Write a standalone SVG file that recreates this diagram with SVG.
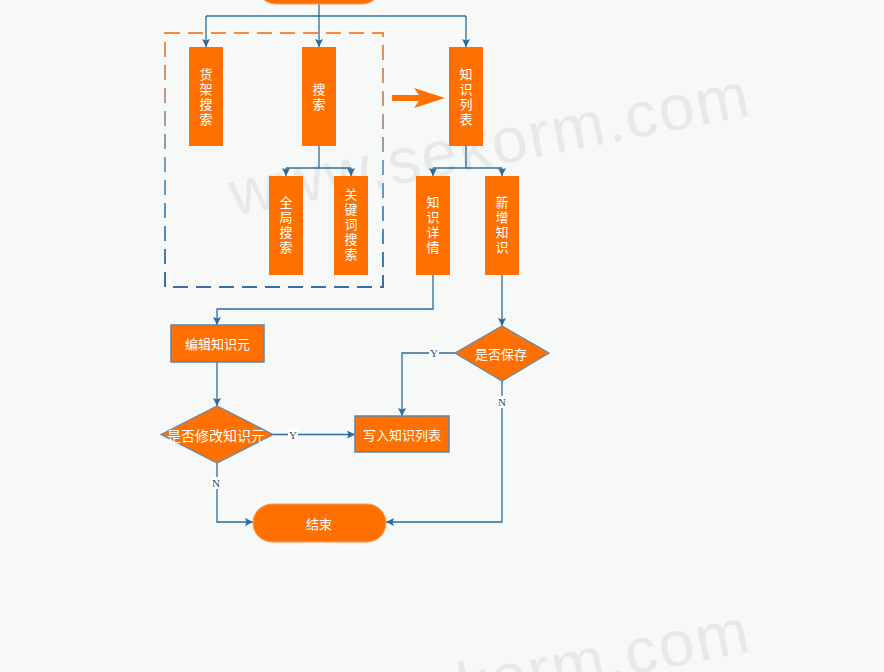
<svg xmlns="http://www.w3.org/2000/svg" width="884" height="672" viewBox="0 0 884 672">
<defs>
<style>
.box{fill:#ff7000;}
.pbox{fill:#ff7000;stroke:#5f84a4;stroke-width:1.5;}
.dia{fill:#ff7000;stroke:#6a88a2;stroke-width:1.3;}
.term{fill:#ff7000;stroke:#ff9a50;stroke-width:1;}
.t{font-family:"Noto Sans CJK SC","Noto Sans",sans-serif;font-size:13px;fill:#ffffff;text-anchor:middle;dominant-baseline:central;}
.v{font-family:"Noto Sans CJK SC","Noto Sans",sans-serif;font-size:13px;fill:#ffffff;text-anchor:middle;writing-mode:vertical-rl;letter-spacing:2px;}
.c{fill:none;stroke:#2c6c9c;stroke-width:1.3;}
.lbl{font-family:"Liberation Serif","DejaVu Serif",serif;font-size:11px;fill:#1f4f70;text-anchor:middle;dominant-baseline:central;}
.lb{fill:#ffffff;}
.wm{font-family:"Liberation Sans",Arial,sans-serif;font-size:64px;fill:#e7e9e9;letter-spacing:2px;}
</style>
<marker id="ah" markerUnits="userSpaceOnUse" markerWidth="9" markerHeight="9" refX="8" refY="4" orient="auto">
<path d="M0,0 L8,4 L0,8 L1.5,4 z" fill="#2c6c9c"/>
</marker>
<linearGradient id="dg" x1="0" y1="0" x2="0" y2="1">
<stop offset="0" stop-color="#f58a4a"/>
<stop offset="0.3" stop-color="#b89a88"/>
<stop offset="0.5" stop-color="#7aa0c0"/>
<stop offset="0.75" stop-color="#4a90c8"/>
<stop offset="1" stop-color="#3a6e9e"/>
</linearGradient>
</defs>
<rect x="0" y="0" width="884" height="672" fill="#f7f9f9"/>
<g id="watermark">
<text class="wm" x="234" y="216" transform="rotate(-11 234 216)">www.sekorm.com</text>
<text class="wm" x="234" y="752" transform="rotate(-11 234 752)">www.sekorm.com</text>
</g>
<g id="group-frame">
<rect x="165" y="33" width="218" height="254" fill="none" stroke="url(#dg)" stroke-width="2" stroke-dasharray="15 8"/>
</g>
<g id="big-arrow">
<polygon points="392,95 419,95 414,88 445,98 414,108 419,101 392,101" fill="#ff7000"/>
</g>
<g id="connectors">
<path class="c" d="M319,4 V47" marker-end="url(#ah)"/>
<path class="c" d="M206,16 H466"/>
<path class="c" d="M206,16 V47" marker-end="url(#ah)"/>
<path class="c" d="M466,16 V47" marker-end="url(#ah)"/>
<path class="c" d="M319,146 V168"/>
<path class="c" d="M286,168 H351"/>
<path class="c" d="M286,168 V176" marker-end="url(#ah)"/>
<path class="c" d="M351,168 V176" marker-end="url(#ah)"/>
<path class="c" d="M466,146 V168"/>
<path class="c" d="M433,168 H502"/>
<path class="c" d="M433,168 V176" marker-end="url(#ah)"/>
<path class="c" d="M502,168 V176" marker-end="url(#ah)"/>
<path class="c" d="M433,275 V309 H217 V325" marker-end="url(#ah)"/>
<path class="c" d="M502,275 V326" marker-end="url(#ah)"/>
<path class="c" d="M455,353 H402 V416" marker-end="url(#ah)"/>
<path class="c" d="M502,381 V522 H386" marker-end="url(#ah)"/>
<path class="c" d="M217,362 V406" marker-end="url(#ah)"/>
<path class="c" d="M273,434.5 H355" marker-end="url(#ah)"/>
<path class="c" d="M217,463 V522 H253" marker-end="url(#ah)"/>
<rect class="lb" x="429" y="347" width="10" height="12"/>
<text class="lbl" x="434" y="353">Y</text>
<rect class="lb" x="497" y="396" width="10" height="12"/>
<text class="lbl" x="502" y="402">N</text>
<rect class="lb" x="288" y="428.5" width="10" height="12"/>
<text class="lbl" x="293" y="434.5">Y</text>
<rect class="lb" x="211" y="477" width="10" height="12"/>
<text class="lbl" x="216" y="483">N</text>
</g>
<g id="start">
<rect class="term" x="257" y="-34" width="124" height="38" rx="19"/>
</g>
<g id="shelf-search">
<rect class="box" x="189" y="47" width="34" height="99"/>
<text class="v" x="206" y="97.5">货架搜索</text>
</g>
<g id="search">
<rect class="box" x="302" y="47" width="34" height="99"/>
<text class="v" x="319" y="97.5">搜索</text>
</g>
<g id="knowledge-list">
<rect class="box" x="449" y="47" width="34" height="99"/>
<text class="v" x="466" y="97.5">知识列表</text>
</g>
<g id="global-search">
<rect class="box" x="269" y="176" width="34" height="99"/>
<text class="v" x="286" y="225.5">全局搜索</text>
</g>
<g id="keyword-search">
<rect class="box" x="334" y="176" width="34" height="99"/>
<text class="v" x="351" y="225.5">关键词搜索</text>
</g>
<g id="knowledge-detail">
<rect class="box" x="416" y="176" width="34" height="99"/>
<text class="v" x="433" y="225.5">知识详情</text>
</g>
<g id="add-knowledge">
<rect class="box" x="485" y="176" width="34" height="99"/>
<text class="v" x="502" y="225.5">新增知识</text>
</g>
<g id="edit-element">
<rect class="pbox" x="171" y="325" width="93" height="37"/>
<text class="t" x="217.5" y="343.5">编辑知识元</text>
</g>
<g id="save-decision">
<polygon class="dia" points="455,353 502,326 549,353 502,381"/>
<text class="t" x="501" y="353">是否保存</text>
</g>
<g id="modify-decision">
<polygon class="dia" points="161,434.5 217,406 273,434.5 217,463"/>
<text class="t" x="216" y="434.5" style="font-size:14px">是否修改知识元</text>
</g>
<g id="write-list">
<rect class="pbox" x="355" y="416" width="94" height="36"/>
<text class="t" x="402" y="434">写入知识列表</text>
</g>
<g id="end">
<rect class="term" x="253" y="504" width="133" height="38" rx="19"/>
<text class="t" x="319" y="523">结束</text>
</g>
</svg>
